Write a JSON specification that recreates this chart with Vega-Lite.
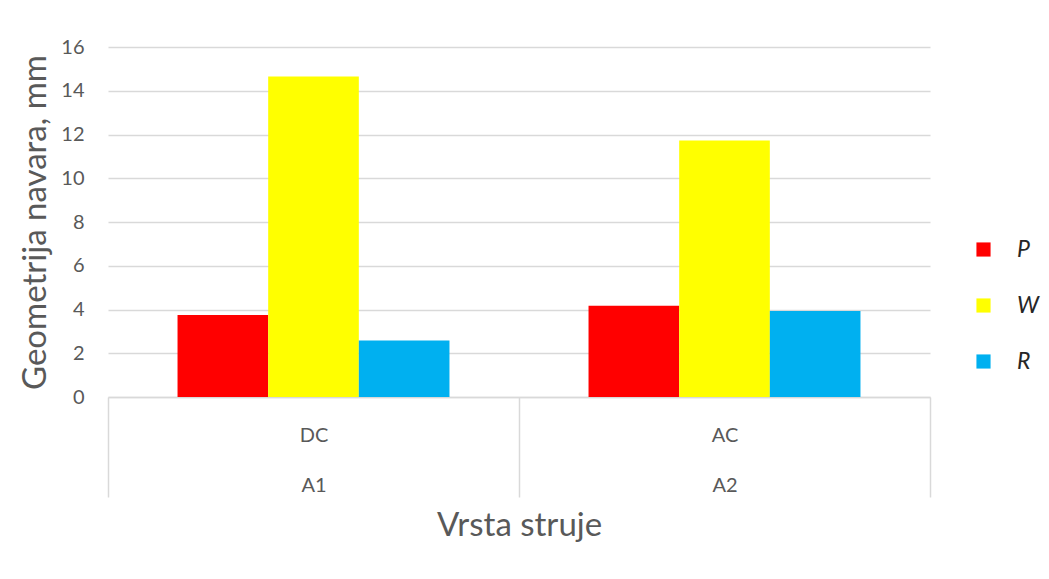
{
  "$schema": "https://vega.github.io/schema/vega-lite/v6.json",
  "width": 822,
  "height": 350,
  "autosize": {"type": "none"},
  "padding": {"left": 108, "top": 47, "right": 119, "bottom": 182},
  "background": "white",
  "config": {"view": {"stroke": null}},
  "data": {
    "values": [
      {"struja": "DC A1", "param": "P", "value": 3.75},
      {"struja": "DC A1", "param": "W", "value": 14.65},
      {"struja": "DC A1", "param": "R", "value": 2.58},
      {"struja": "AC A2", "param": "P", "value": 4.17},
      {"struja": "AC A2", "param": "W", "value": 11.73},
      {"struja": "AC A2", "param": "R", "value": 3.93}
    ]
  },
  "mark": {"type": "bar"},
  "encoding": {
    "x": {
      "field": "struja",
      "type": "nominal",
      "sort": ["DC A1", "AC A2"],
      "scale": {"paddingInner": 0, "paddingOuter": 0},
      "axis": {
        "title": "Vrsta struje",
        "labelAngle": 0,
        "tickBand": "extent",
        "tickSize": 100,
        "tickColor": "#D9D9D9",
        "tickWidth": 1.5,
        "domainColor": "#D9D9D9",
        "domainWidth": 1.5,
        "labelExpr": "split(datum.label, ' ')",
        "labelLineHeight": 50,
        "labelPadding": -72,
        "labelFont": "Lato",
        "labelFontSize": 20,
        "labelColor": "#595959",
        "titleFont": "Lato",
        "titleFontSize": 33,
        "titleFontWeight": "normal",
        "titleColor": "#595959",
        "titlePadding": 12
      }
    },
    "xOffset": {
      "field": "param",
      "sort": ["P", "W", "R"],
      "scale": {"paddingInner": 0, "paddingOuter": 0.767}
    },
    "y": {
      "field": "value",
      "type": "quantitative",
      "scale": {"domain": [0, 16]},
      "axis": {
        "title": "Geometrija navara, mm",
        "values": [0, 2, 4, 6, 8, 10, 12, 14, 16],
        "domain": false,
        "ticks": false,
        "labelPadding": 24,
        "labelFont": "Lato",
        "labelFontSize": 20,
        "labelColor": "#595959",
        "gridColor": "#D9D9D9",
        "gridWidth": 1.5,
        "titleFont": "Lato",
        "titleFontSize": 33,
        "titleFontWeight": "normal",
        "titleColor": "#595959",
        "titlePadding": 8
      }
    },
    "color": {
      "field": "param",
      "type": "nominal",
      "sort": ["P", "W", "R"],
      "scale": {"domain": ["P", "W", "R"], "range": ["#FF0000", "#FFFF00", "#00B0F0"]},
      "legend": {
        "title": null,
        "orient": "none",
        "legendX": 864,
        "legendY": 191,
        "symbolType": "square",
        "symbolSize": 200,
        "symbolStrokeWidth": 0,
        "labelFont": "Lato",
        "labelFontStyle": "italic",
        "labelFontSize": 23,
        "labelColor": "#262626",
        "labelOffset": 22,
        "rowPadding": 32
      }
    }
  }
}
